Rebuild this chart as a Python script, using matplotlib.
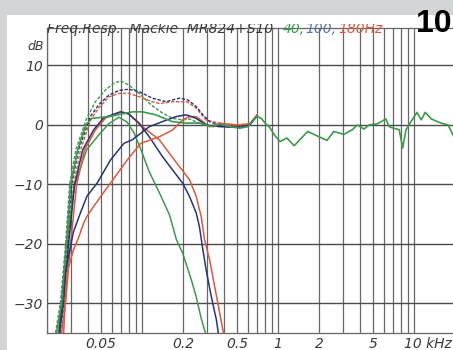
import matplotlib
matplotlib.use('Agg')
import matplotlib.pyplot as plt
from matplotlib.patches import Rectangle
from matplotlib.transforms import Bbox, TransformedBbox

# frequency in kHz, level in dB
# 40 Hz setting (green)
f_sum40 = [0.0231, 0.0251, 0.0274, 0.0293, 0.0326, 0.0387, 0.0454, 0.0539, 0.062, 0.0695,
           0.08, 0.095, 0.116, 0.141, 0.168, 0.199, 0.223, 0.264, 0.314]
db_sum40 = [-35, -29.9, -20, -10.1, -4.2, 0.84, 3.9, 5.9, 7.0, 7.4,
            6.7, 5.3, 3.4, 2.0, 1.1, 0.84, 1.0, 0.3, -0.3]
f_lp40 = [0.0243, 0.0256, 0.0278, 0.0319, 0.0391, 0.048, 0.057, 0.0675, 0.0774, 0.0872,
          0.0983, 0.113, 0.134, 0.159, 0.179, 0.199, 0.23, 0.25, 0.272, 0.288, 0.298]
db_lp40 = [-35, -30, -20, -10.1, -4.2, -1.7, 0.2, 1.3, 0.5, -1.3,
           -4.2, -7.9, -11.4, -15.1, -19.3, -21.6, -26, -28.9, -32.5, -34.5, -35.5]
# satellite with 40 Hz highpass, runs on to 20 kHz
f_hp40 = [0.0235, 0.0256, 0.0278, 0.0298, 0.0336, 0.0385, 0.0427, 0.057, 0.0848, 0.1005,
          0.126, 0.167, 0.211, 0.264, 0.332, 0.372, 0.441, 0.523, 0.6, 0.65,
          0.7, 0.76, 0.81, 0.873, 0.94, 1.035, 1.16, 1.314, 1.65, 1.94,
          2.29, 2.57, 3.05, 3.52, 3.83, 4.28, 4.67, 5.38, 6.2, 6.56,
          7.15, 7.78, 8.24, 8.73, 9.5, 10.5, 11.3, 12.05, 13.4, 15.8, 17.8, 19.8, 21]
db_hp40 = [-35, -29.9, -20, -10.1, -4.2, 0, 1.1, 1.4, 2.2, 2.2,
           1.7, 0.55, 0.3, 0.3, -0.3, 0.15, -0.3, -0.55, -0.3, 0.7,
           1.5, 1.0, 0.2, -0.5, -1.7, -2.8, -2.2, -3.5, -1.1, -1.85,
           -2.6, -1.1, -1.6, -0.8, 0, -0.7, 0, 0.2, 1.0, -0.3,
           -0.6, -0.8, -3.9, -0.8, 0.55, 2.1, 0.85, 2.1, 1.0, 0.3, 0, -2.2, -3]

# 100 Hz setting (blue)
f_sum100 = [0.0243, 0.026, 0.0283, 0.0303, 0.0341, 0.0417, 0.048, 0.057, 0.0675, 0.08,
            0.095, 0.119, 0.134, 0.15, 0.188, 0.217, 0.25, 0.28, 0.314, 0.372,
            0.441, 0.523, 0.62, 0.7]
db_sum100 = [-35, -29.9, -20, -10.1, -4.2, 1.4, 3.4, 5.0, 5.8, 6.0,
             5.6, 4.5, 4.2, 3.9, 4.5, 4.2, 3.1, 1.7, 0.55, -0.1,
             -0.4, -0.3, 0.0, 1.5]
f_lp100 = [0.0247, 0.0265, 0.0288, 0.0319, 0.0366, 0.0441, 0.0523, 0.0695, 0.08, 0.095,
           0.113, 0.141, 0.168, 0.199, 0.223, 0.25, 0.264, 0.28, 0.296, 0.323,
           0.352, 0.361, 0.368]
db_lp100 = [-35, -29.9, -20, -10.1, -4.2, -0.8, 1.2, 2.2, 1.8, 0.3,
            -2.0, -5.3, -7.6, -9.8, -12, -14.8, -17.1, -21, -24.4, -28.9,
            -32.8, -34.5, -36]
f_hp100 = [0.0247, 0.0257, 0.0272, 0.0313, 0.0352, 0.0393, 0.0467, 0.0586, 0.0736, 0.0848,
           0.113, 0.141, 0.178, 0.211, 0.25, 0.296, 0.372, 0.523, 0.62, 0.7]
db_hp100 = [-35, -29.9, -25, -18, -14.8, -12, -9.8, -5.9, -3.1, -2.5,
            -0.3, 0.55, 1.4, 1.7, 1.1, 0.0, -0.3, -0.4, 0.0, 1.5]

# 180 Hz setting (red)
f_sum180 = [0.0251, 0.0269, 0.0288, 0.0313, 0.0353, 0.0419, 0.048, 0.057, 0.0675, 0.08,
            0.095, 0.119, 0.134, 0.168, 0.215, 0.25, 0.296, 0.332, 0.372, 0.494,
            0.62, 0.7]
db_sum180 = [-35, -29.9, -20, -10.1, -4.2, 0.84, 2.85, 4.7, 5.3, 5.3,
             4.75, 3.9, 3.6, 3.9, 3.9, 2.8, 0.8, 0.55, 0.3, -0.3,
             0.2, 1.6]
f_lp180 = [0.0256, 0.0274, 0.0298, 0.033, 0.0378, 0.0456, 0.0541, 0.0699, 0.08, 0.095,
           0.113, 0.134, 0.159, 0.188, 0.223, 0.25, 0.272, 0.288, 0.314, 0.342,
           0.372, 0.393, 0.405]
db_lp180 = [-35, -29.9, -20, -10.1, -4.2, -0.8, 1.2, 2.2, 1.9, 0.2,
            -1.2, -2.5, -4.8, -7.0, -9.2, -12, -15.4, -19.3, -22.7, -27.2,
            -31.6, -34.5, -36]
f_hp180 = [0.0265, 0.0272, 0.028, 0.0313, 0.0341, 0.0372, 0.0393, 0.0441, 0.0539, 0.0586,
           0.0778, 0.0978, 0.134, 0.168, 0.199, 0.223, 0.25, 0.314, 0.372, 0.494,
           0.62, 0.7]
db_hp180 = [-35, -30, -25, -21, -19, -16.5, -15.4, -13.7, -10.9, -9.8,
            -5.9, -3.1, -2.0, -0.84, 0.84, 1.4, 1.4, -0.3, 0.3, 0.0,
            0.2, 1.7]

vgrid = [0.02, 0.03, 0.04, 0.05, 0.06, 0.07, 0.08, 0.09,
         0.1, 0.2, 0.3, 0.4, 0.5, 0.6, 0.7, 0.8, 0.9,
         1, 2, 3, 4, 5, 6, 7, 8, 9, 10, 20]
hgrid = [10, 0, -10, -20, -30]
xlabels = {0.05: '0.05', 0.2: '0.2', 0.5: '0.5', 1: '1', 2: '2', 5: '5'}

GREEN = '#3d9a4c'
BLUE = '#2b3374'
RED = '#db5a3e'
GRID = '#666666'
TXT = '#3a3a3a'

W, H = 453, 350
fig = plt.figure(figsize=(W / 100, H / 100), dpi=100)
fig.patch.set_facecolor('#d3d4d6')
fig.patches.append(Rectangle((7 / W, 0), 1, 1 - 15 / H, transform=fig.transFigure,
                             facecolor='white', edgecolor='none', zorder=-5))

ax = fig.add_axes([47 / W, 17 / H, 408 / W, 305 / H])
ax.set_zorder(2)
ax.set_xscale('log')
ax.set_xlim(0.02, 20)
ax.set_ylim(-35, 16.3)
ax.set_facecolor('white')
for v in vgrid:
    ax.axvline(v, color=GRID, lw=0.9, zorder=1)
for h in hgrid:
    ax.axhline(h, color='#4a4a4a', lw=1.0, zorder=1)
for s in ax.spines.values():
    s.set_color(GRID)
    s.set_linewidth(0.9)

dash = (0, (2.4, 1.2))
ax.plot(f_sum40, db_sum40, color=GREEN, lw=1.0, ls=dash, zorder=3)
ax.plot(f_sum180, db_sum180, color=RED, lw=1.0, ls=dash, zorder=3)
ax.plot(f_sum100, db_sum100, color=BLUE, lw=1.0, ls=dash, zorder=3)
ax.plot(f_lp40, db_lp40, color=GREEN, lw=1.1, zorder=3)
ax.plot(f_lp180, db_lp180, color=RED, lw=1.1, zorder=3)
ax.plot(f_lp100, db_lp100, color=BLUE, lw=1.1, zorder=3)
ax.plot(f_hp180, db_hp180, color=RED, lw=1.1, zorder=3)
ax.plot(f_hp100, db_hp100, color=BLUE, lw=1.1, zorder=3)
ax.plot(f_hp40, db_hp40, color=GREEN, lw=1.2, zorder=4)

ax.set_xticks(list(xlabels.keys()))
ax.set_xticklabels(list(xlabels.values()))
ax.xaxis.set_minor_locator(matplotlib.ticker.NullLocator())
ax.set_yticks(hgrid)
ax.set_yticklabels(['10', '0', '\u221210', '\u221220', '\u221230'])
ax.tick_params(length=0, labelsize=10, labelcolor=TXT, pad=3)
for t in ax.get_xticklabels() + ax.get_yticklabels():
    t.set_style('italic')
ax.annotate('10 kHz', xy=(10, 0), xycoords=('data', 'axes fraction'),
            xytext=(-7, -3), textcoords='offset points', ha='left', va='top',
            fontsize=10, style='italic', color=TXT)
fig.text(27 / W, 1 - 46 / H, 'dB', fontsize=9, style='italic', color=TXT, va='center')

# header, top of it cut off
clip = TransformedBbox(Bbox([[0, 0], [1, 1 - 24 / H]]), fig.transFigure)
parts = [(47, 'Freq.Resp.  Mackie  MR824+S10', TXT), (283, '40,', GREEN),
         (305, '100,', '#5b6ea8'), (338, '180Hz', RED)]
for x, s, c in parts:
    t = fig.text(x / W, 1 - 33 / H, s, fontsize=10, style='italic', color=c,
                 va='baseline')
    t.set_clip_box(clip)
    t.set_clip_on(True)

fig.text(416 / W, 1 - 32 / H, '10', fontsize=23, fontweight='bold', color='black',
         family=['Liberation Sans', 'DejaVu Sans'], va='baseline')

fig.savefig('out.png', dpi=100, facecolor=fig.get_facecolor())
